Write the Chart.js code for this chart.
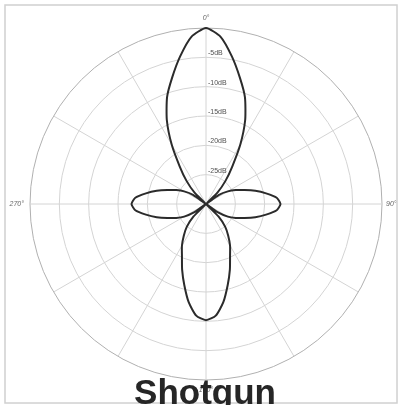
<!DOCTYPE html>
<html>
<head>
<meta charset="utf-8">
<script src="https://cdn.jsdelivr.net/npm/chart.js@4.4.0/dist/chart.umd.min.js"></script>
<style>
  html, body { margin: 0; padding: 0; background: #ffffff; }
  #wrap { position: relative; width: 400px; height: 405px; }
</style>
</head>
<body>
<div id="wrap"><canvas id="polarChart" width="400" height="405"></canvas></div>
<script>
// Angles in degrees (0 = front / top, clockwise), one point every 5 deg
const angles = [
    0, 5, 10, 15, 20, 25, 30, 35, 40, 45, 50, 55,
    60, 65, 70, 75, 80, 85, 90, 95, 100, 105, 110, 115,
    120, 125, 130, 135, 140, 145, 150, 155, 160, 165, 170, 175,
    180, 185, 190, 195, 200, 205, 210, 215, 220, 225, 230, 235,
    240, 245, 250, 255, 260, 265, 270, 275, 280, 285, 290, 295,
    300, 305, 310, 315, 320, 325, 330, 335, 340, 345, 350, 355
];

// Pickup level in dB (centre of plot = -30 dB)
const levelDb = [
    0, -1.4, -4.5, -7.7, -10.6, -14.2, -18.3, -22.2, -24.8, -27.2, -30, -27.3,
    -25.7, -24.4, -23.0, -21.3, -19.6, -17.9, -17.3, -17.9, -19.6, -21.3, -23.0, -24.4,
    -25.7, -27.5, -30, -27.0, -24.9, -23.4, -21.8, -20.3, -18.1, -15.7, -13.0, -10.9,
    -10.2, -10.9, -13.0, -15.7, -18.1, -20.3, -21.8, -23.4, -24.9, -27.0, -30, -27.5,
    -25.7, -24.4, -23.0, -21.3, -19.6, -17.9, -17.3, -17.9, -19.6, -21.3, -23.0, -24.4,
    -25.7, -27.3, -30, -27.2, -24.8, -22.2, -18.3, -14.2, -10.6, -7.7, -4.5, -1.4
];

const ringTicks = [-25, -20, -15, -10, -5];
const angleLabels = { 0: '0°', 90: '90°', 180: '180°', 270: '270°' };
const chartTitle = 'Shotgun';

// Draws the dB labels, the degree labels, the frame and the title
const overlayPlugin = {
    id: 'overlay',
    afterDraw(chart) {
        const ctx = chart.ctx;
        const scale = chart.scales.r;
        const cx = scale.xCenter;
        const cy = scale.yCenter;
        const R = scale.drawingArea;

        ctx.save();
        ctx.fillStyle = '#505050';
        ctx.font = '7px "Liberation Sans", Arial, sans-serif';
        ctx.textBaseline = 'middle';
        ctx.textAlign = 'left';
        ringTicks.forEach(v => {
            const d = scale.getDistanceFromCenterForValue(v);
            ctx.fillText(v + 'dB', cx + 2, cy - d - 4);
        });

        ctx.fillStyle = '#666666';
        ctx.font = 'italic 7px "Liberation Sans", Arial, sans-serif';
        ctx.textAlign = 'center';
        ctx.fillText(angleLabels[0], cx, cy - R - 10);
        ctx.fillText(angleLabels[180], cx, cy + R + 10);
        ctx.textAlign = 'left';
        ctx.fillText(angleLabels[90], cx + R + 4, cy);
        ctx.textAlign = 'right';
        ctx.fillText(angleLabels[270], cx - R - 6, cy);

        // grey frame round the picture
        ctx.strokeStyle = '#d0d0d0';
        ctx.lineWidth = 1.5;
        ctx.strokeRect(5, 5, 392, 398);

        ctx.fillStyle = '#262626';
        ctx.font = 'bold 35px "Liberation Sans", Arial, sans-serif';
        ctx.textAlign = 'center';
        ctx.textBaseline = 'alphabetic';
        ctx.fillText(chartTitle, 205, 404);
        ctx.restore();
    }
};

function renderPolarChart() {
    const ctx = document.getElementById('polarChart').getContext('2d');

    new Chart(ctx, {
        type: 'radar',
        data: {
            labels: angles.map(a => a + '°'),
            datasets: [{
                data: levelDb,
                borderColor: '#2b2b2b',
                borderWidth: 2,
                backgroundColor: 'transparent',
                fill: false,
                pointRadius: 0,
                tension: 0.2
            }]
        },
        options: {
            responsive: false,
            animation: false,
            layout: {
                padding: { left: 30, right: 18, top: 28, bottom: 25 }
            },
            plugins: {
                legend: { display: false },
                tooltip: { enabled: false },
                title: { display: false }
            },
            scales: {
                r: {
                    min: -30,
                    max: 0,
                    startAngle: 0,
                    ticks: { display: false, stepSize: 5 },
                    pointLabels: { display: false },
                    grid: {
                        circular: true,
                        lineWidth: 1,
                        color: (c) => c.index === 6 ? '#b0b0b0' : '#d4d4d4'
                    },
                    angleLines: {
                        display: true,
                        lineWidth: 1,
                        color: (c) => c.index % 6 === 0 ? '#d4d4d4' : 'transparent'
                    }
                }
            }
        },
        plugins: [overlayPlugin]
    });
}

window.onload = function() {
    renderPolarChart();
};
</script>
</body>
</html>
